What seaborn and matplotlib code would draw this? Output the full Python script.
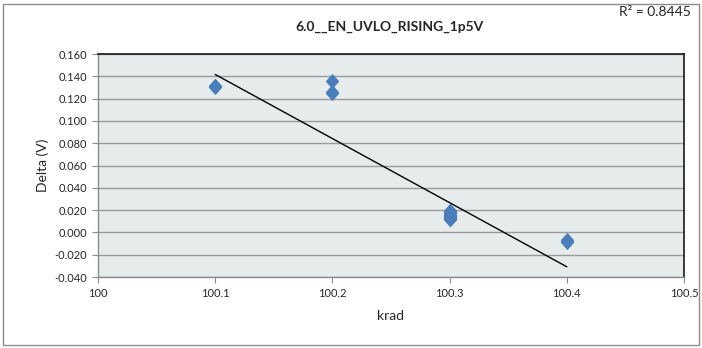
import numpy as np
import pandas as pd
import matplotlib
matplotlib.use("Agg")
import matplotlib.pyplot as plt
import seaborn as sns
from matplotlib.patches import Rectangle

# Measured deltas per irradiation level
krad = [100.1] * 3 + [100.2] * 3 + [100.3] * 15 + [100.4] * 3
delta = [0.131, 0.130, 0.131,
         0.136, 0.126, 0.125,
         0.019, 0.019, 0.018, 0.018, 0.017, 0.016, 0.016, 0.015,
         0.015, 0.014, 0.014, 0.013, 0.012, 0.012, 0.012,
         -0.007, -0.008, -0.009]
y_ticks = [-0.040, -0.020, 0.000, 0.020, 0.040, 0.060, 0.080, 0.100, 0.120, 0.140, 0.160]
x_ticks = [100, 100.1, 100.2, 100.3, 100.4, 100.5]
title = "6.0__EN_UVLO_RISING_1p5V"

df = pd.DataFrame({"krad": krad, "delta": delta})

# linear trend and its coefficient of determination
slope, intercept = np.polyfit(krad, delta, 1)
pred = slope * np.array(krad) + intercept
r2 = 1 - np.sum((np.array(delta) - pred) ** 2) / np.sum((np.array(delta) - np.mean(delta)) ** 2)
r2_label = f"R² = {r2:.4f}"

sns.set_theme(style="white")
plt.rcParams["font.family"] = ["Lato", "DejaVu Sans"]

fig = plt.figure(figsize=(7.02, 3.48), dpi=100)
ax = fig.add_axes([98 / 702, 1 - 277 / 348, (684 - 98) / 702, (277 - 54) / 348])

# outer chart border
fig.patches.append(Rectangle((3 / 702, 3 / 348), 696 / 702, 341 / 348,
                             transform=fig.transFigure, fill=False,
                             edgecolor="#8c8c8c", linewidth=1.0))

ax.set_facecolor("#e6ecec")
for yt in y_ticks:
    ax.axhline(yt, color="#9a9a9a", linewidth=1.0, zorder=1)

diamond = [(0, 1), (0.88, 0), (0, -1), (-0.88, 0), (0, 1)]
sns.scatterplot(data=df, x="krad", y="delta", marker=diamond, s=112,
                color="#4a7ebb", edgecolor="#4a7ebb", linewidth=0.3,
                ax=ax, zorder=3, legend=False)

xs = np.array([min(krad), max(krad)])
ax.plot(xs, slope * xs + intercept, color="black", linewidth=1.0, zorder=4)

ax.set_xlim(100, 100.5)
ax.set_ylim(-0.040, 0.160)
ax.set_xticks(x_ticks)
ax.set_xticklabels([f"{v:g}" for v in x_ticks], fontsize=8)
ax.set_yticks(y_ticks)
ax.set_yticklabels([f"{v:.3f}" for v in y_ticks], fontsize=8)
ax.tick_params(axis="both", length=4, width=0.8, color="#8c8c8c",
               direction="out", bottom=True, left=True, pad=4)

for side in ["left", "bottom"]:
    ax.spines[side].set_color("#8c8c8c")
    ax.spines[side].set_linewidth(1.0)
for side in ["top", "right"]:
    ax.spines[side].set_color("#1a1a1a")
    ax.spines[side].set_linewidth(1.2)

ax.set_xlabel("krad", fontsize=10, labelpad=8)
ax.set_ylabel("Delta (V)", fontsize=10, labelpad=4)

fig.text(390 / 702, 1 - 27 / 348, title, ha="center", va="center",
         fontsize=10, fontweight="bold")
fig.text(655 / 702, 1 - 12 / 348, r2_label, ha="center", va="center",
         fontsize=10)

fig.savefig("out.png", dpi=100)
